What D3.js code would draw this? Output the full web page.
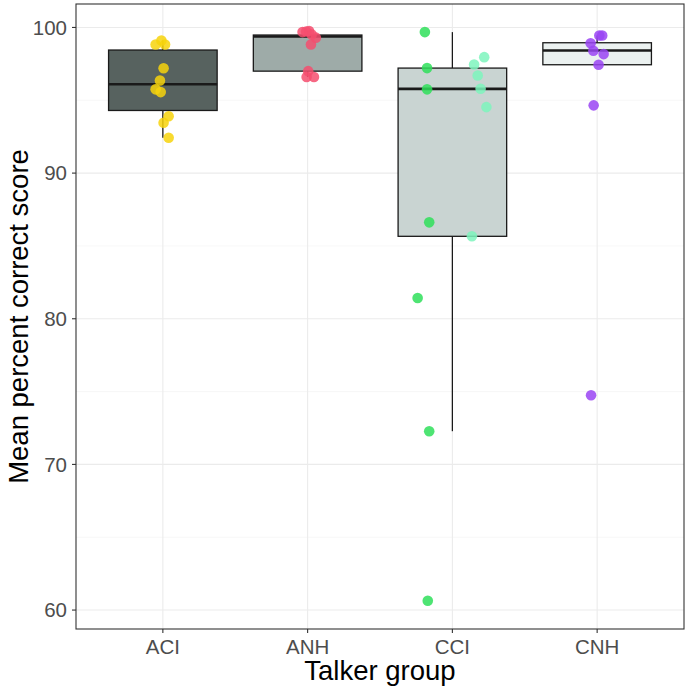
<!DOCTYPE html>
<html><head><meta charset="utf-8">
<script src="https://cdn.jsdelivr.net/npm/d3@7"></script>
<style>body{margin:0;background:#fff}svg{display:block}</style>
</head><body><svg id="c" width="689" height="689"></svg>
<script>
const categories = ["ACI","ANH","CCI","CNH"];
const boxFill = ["#57625f","#9eaba8","#c9d4d2","#ebf1f0"];
// box stats: [whiskerLow, q1, median, q3, whiskerHigh]
const boxStats = [
  [92.43, 94.3, 96.1, 98.45, 99.1],
  [96.6, 97.0, 99.38, 99.48, 99.75],
  [72.28, 85.66, 95.78, 97.21, 99.68],
  [97.44, 97.44, 98.42, 98.95, 99.45]
];
// points: group, value, jitter offset (category units), colour key
const ptGroup = ["ACI","ACI","ACI","ACI","ACI","ACI","ACI","ACI","ACI","ACI",
  "ANH","ANH","ANH","ANH","ANH","ANH","ANH","ANH","ANH",
  "CCI","CCI","CCI","CCI","CCI","CCI","CCI","CCI","CCI","CCI","CCI","CCI","CCI",
  "CNH","CNH","CNH","CNH","CNH","CNH","CNH","CNH"];
const ptValue = [98.83,99.1,98.83,97.2,96.36,95.75,95.56,93.9,93.46,92.43,
  99.68,99.75,99.52,99.3,98.83,97.0,96.6,96.6,99.72,
  99.68,97.21,95.75,86.62,81.43,72.28,60.64,97.96,97.46,96.7,95.79,94.53,85.66,
  99.45,99.45,98.92,98.4,98.17,97.44,94.65,74.75];
const ptJitter = [-0.05,-0.01,0.015,0.005,-0.02,-0.05,-0.015,0.04,0.005,0.04,
  -0.035,0.01,0.028,0.057,0.023,0.004,-0.007,0.044,-0.01,
  -0.19,-0.175,-0.175,-0.16,-0.24,-0.16,-0.17,0.22,0.15,0.175,0.195,0.235,0.135,
  0.035,0.015,-0.045,-0.026,0.045,0.01,-0.024,-0.042];
const ptColour = ["ACI","ACI","ACI","ACI","ACI","ACI","ACI","ACI","ACI","ACI",
  "ANH","ANH","ANH","ANH","ANH","ANH","ANH","ANH","ANH",
  "CCIa","CCIa","CCIa","CCIa","CCIa","CCIa","CCIa","CCIb","CCIb","CCIb","CCIb","CCIb","CCIb",
  "CNH","CNH","CNH","CNH","CNH","CNH","CNH","CNH"];
const colourKeys = ["ACI","ANH","CCIa","CCIb","CNH"];
const colourVals = ["#f7d40c","#f44d6e","#2fdf5b","#7ef5bd","#9a44f3"];
const yTicks = [60,70,80,90,100];
const yMinor = [65,75,85,95];

const svg = d3.select("#c");
const L=76, R=684, T=4, B=629;
// discrete expansion 0.6 each side
const x = d3.scalePoint().domain(categories).range([L,R]).padding(0.6*2/2);
const step = (R-L)/(categories.length-1+1.2);
const xc = c => L + step*(0.6 + categories.indexOf(c));
const y = d3.scaleLinear().domain([58.70,101.61]).range([B,T]);
const col = d3.scaleOrdinal().domain(colourKeys).range(colourVals);

const g = svg.append("g");
// grid
g.selectAll(".ymin").data(yMinor).join("line").attr("x1",L).attr("x2",R)
  .attr("y1",d=>y(d)).attr("y2",d=>y(d)).attr("stroke","#f2f2f2").attr("stroke-width",0.6);
g.selectAll(".ymaj").data(yTicks).join("line").attr("x1",L).attr("x2",R)
  .attr("y1",d=>y(d)).attr("y2",d=>y(d)).attr("stroke","#ebebeb").attr("stroke-width",1.1);
g.selectAll(".xmaj").data(categories).join("line").attr("y1",T).attr("y2",B)
  .attr("x1",d=>xc(d)).attr("x2",d=>xc(d)).attr("stroke","#ebebeb").attr("stroke-width",1.1);

// boxes
const hw = step*0.375;
categories.forEach((c,i)=>{
  const s = boxStats[i], cx = xc(c);
  g.append("line").attr("x1",cx).attr("x2",cx).attr("y1",y(s[0])).attr("y2",y(s[1])).attr("stroke","#1a1a1a").attr("stroke-width",1.3);
  g.append("line").attr("x1",cx).attr("x2",cx).attr("y1",y(s[3])).attr("y2",y(s[4])).attr("stroke","#1a1a1a").attr("stroke-width",1.3);
  g.append("rect").attr("x",cx-hw).attr("width",2*hw).attr("y",y(s[3])).attr("height",y(s[1])-y(s[3]))
    .attr("fill",boxFill[i]).attr("stroke","#1a1a1a").attr("stroke-width",1.3);
  g.append("line").attr("x1",cx-hw).attr("x2",cx+hw).attr("y1",y(s[2])).attr("y2",y(s[2])).attr("stroke","#1a1a1a").attr("stroke-width",2.6);
});

// points
g.selectAll(".pt").data(ptValue.map((v,i)=>({g:ptGroup[i],v,j:ptJitter[i],c:ptColour[i]}))).join("circle")
  .attr("cx",d=>xc(d.g)+d.j*step).attr("cy",d=>y(d.v)).attr("r",5.3)
  .attr("fill",d=>col(d.c)).attr("fill-opacity",0.85);

// border
svg.append("rect").attr("x",L).attr("y",T).attr("width",R-L).attr("height",B-T)
  .attr("fill","none").attr("stroke","#333").attr("stroke-width",1.1);

// axes
const font = "Liberation Sans, Arial, sans-serif";
yTicks.forEach(t=>{
  svg.append("line").attr("x1",L-4).attr("x2",L).attr("y1",y(t)).attr("y2",y(t)).attr("stroke","#333").attr("stroke-width",1.1);
  svg.append("text").attr("x",L-9).attr("y",y(t)).attr("dy","0.36em").attr("text-anchor","end")
    .attr("font-family",font).attr("font-size",20.5).attr("fill","#4d4d4d").text(t);
});
categories.forEach(c=>{
  svg.append("line").attr("x1",xc(c)).attr("x2",xc(c)).attr("y1",B).attr("y2",B+4).attr("stroke","#333").attr("stroke-width",1.1);
  svg.append("text").attr("x",xc(c)).attr("y",B+25).attr("text-anchor","middle")
    .attr("font-family",font).attr("font-size",20.5).attr("fill","#4d4d4d").text(c);
});
svg.append("text").attr("x",(L+R)/2).attr("y",680).attr("text-anchor","middle")
  .attr("font-family",font).attr("font-size",27.5).attr("fill","#000").text("Talker group");
svg.append("text").attr("transform",`translate(28,${(T+B)/2}) rotate(-90)`).attr("text-anchor","middle")
  .attr("font-family",font).attr("font-size",27.5).attr("fill","#000").text("Mean percent correct score");
</script></body></html>
